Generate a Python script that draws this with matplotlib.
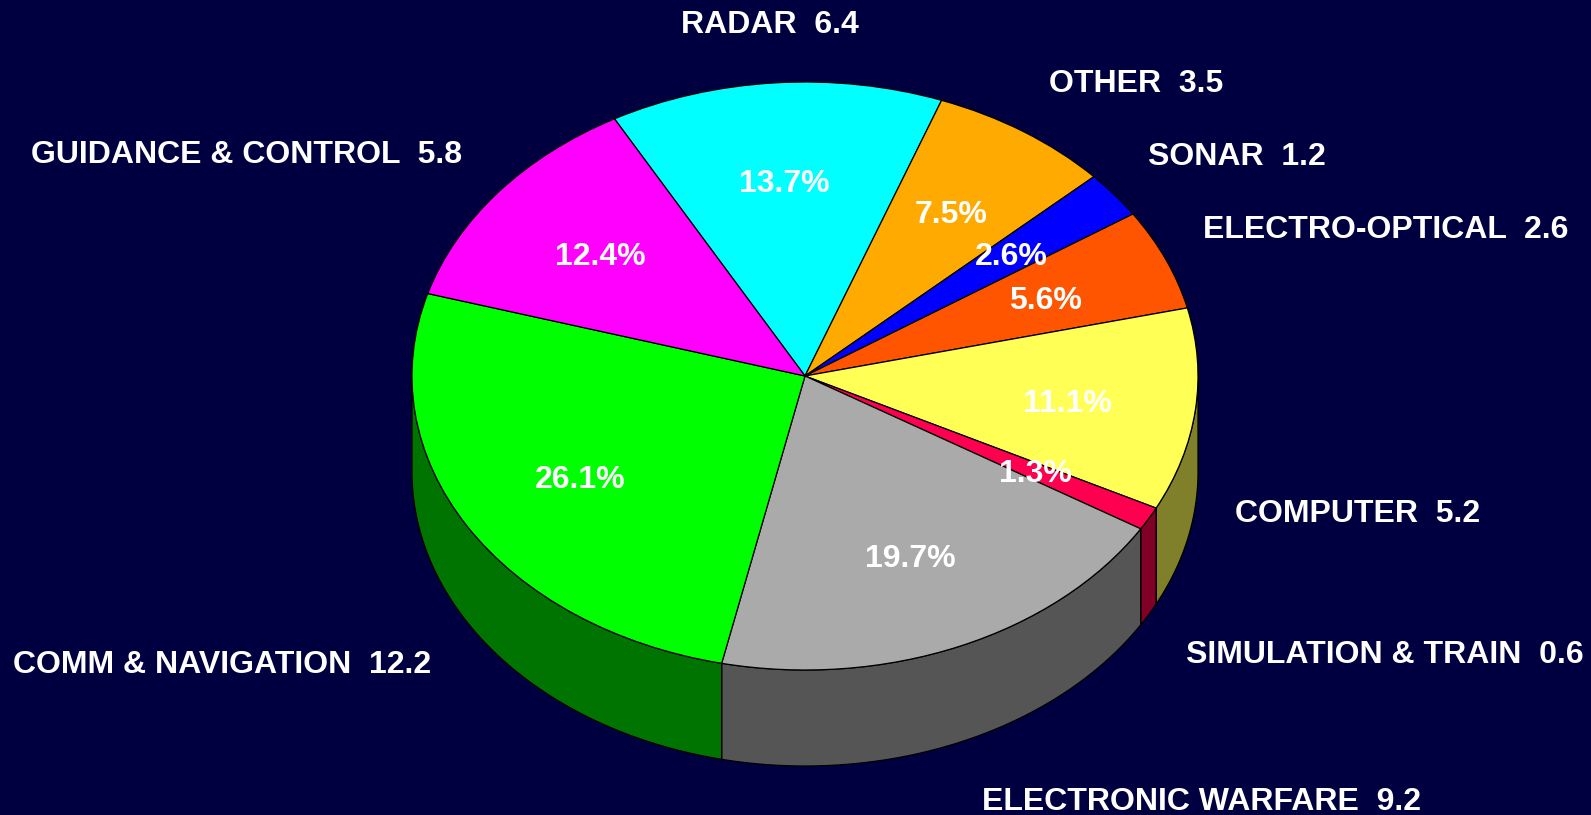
import numpy as np
import matplotlib
matplotlib.use('Agg')
import matplotlib.pyplot as plt

# --- DATA ---
categories = ['RADAR', 'OTHER', 'SONAR', 'ELECTRO-OPTICAL', 'COMPUTER',
              'SIMULATION & TRAIN', 'ELECTRONIC WARFARE', 'COMM & NAVIGATION',
              'GUIDANCE & CONTROL']
values = [6.4, 3.5, 1.2, 2.6, 5.2, 0.6, 9.2, 12.2, 5.8]

# --- STYLE ---
top_colors = ['#00ffff', '#ffaa00', '#0000ff', '#ff5500', '#ffff55',
              '#ff0050', '#aaaaaa', '#00ff00', '#ff00ff']
side_colors = ['#008080', '#805500', '#000080', '#802a00', '#80802a',
               '#800028', '#555555', '#007400', '#800080']
BG = '#000040'

# ellipse geometry in pixels
CX, CY, RX, RY = 805, 376, 393, 294
DEPTH = 96 / RY

# label anchor points (pixel x centre, pixel baseline)
name_pos = [(770, 33), (1136, 92), (1237, 165), (1386, 238), (1358, 522),
            (1385, 663), (1202, 810), (222, 673), (247, 163)]
pct_pos = [(784, 192), (951, 223), (1011, 265), (1045, 309), (1067, 412),
           (1035, 482), (910, 567), (580, 488), (600, 265)]


def to_data(px, py):
    return (px - CX) / RX, (CY - py) / RY


fig = plt.figure(figsize=(15.91, 8.15), dpi=100, facecolor=BG)
ax = fig.add_axes([0, 0, 1, 1])
ax.set_facecolor(BG)

wedges, _ = ax.pie(values, colors=top_colors, startangle=119.0,
                   counterclock=False,
                   wedgeprops=dict(edgecolor='black', linewidth=0.9, zorder=3))
ax.set_aspect('auto')
ax.set_xlim((0 - CX) / RX, (1591 - CX) / RX)
ax.set_ylim((CY - 815) / RY, CY / RY)
ax.axis('off')

# side walls of the front half
for w, sc in zip(wedges, side_colors):
    a, b = w.theta1, w.theta2
    for k in range(-2, 3):
        lo = max(a, -180 + 360 * k)
        hi = min(b, 360 * k)
        if hi <= lo:
            continue
        t = np.radians(np.linspace(lo, hi, 100))
        xs = np.concatenate([np.cos(t), np.cos(t[::-1])])
        ys = np.concatenate([np.sin(t), np.sin(t[::-1]) - DEPTH])
        ax.fill(xs, ys, facecolor=sc, edgecolor='black', linewidth=0.9,
                zorder=1)

total = sum(values)
font = dict(family='Liberation Sans', weight='bold', size=23, color='white')
for cat, v, (nx, ny), (qx, qy) in zip(categories, values, name_pos, pct_pos):
    x, y = to_data(nx, ny)
    ax.text(x, y, f'{cat}  {v}', ha='center', va='baseline', zorder=5, **font)
    x, y = to_data(qx, qy)
    ax.text(x, y, f'{v / total * 100:.1f}%', ha='center', va='baseline',
            zorder=5, **font)

fig.savefig('out.png', dpi=100, facecolor=BG)
